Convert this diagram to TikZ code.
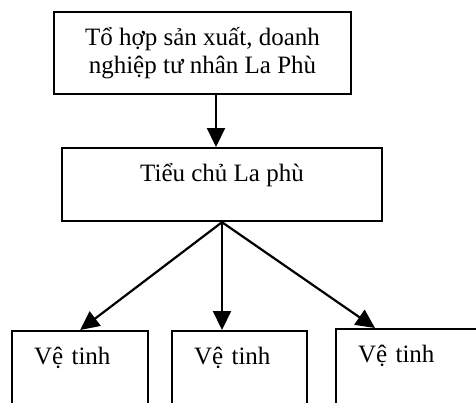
\documentclass[tikz,border=0pt]{standalone}
\usepackage{fontspec}
\setmainfont{Liberation Serif}
\usepackage{tikz}
\usetikzlibrary{arrows.meta, positioning, calc}

\begin{document}
\begin{tikzpicture}[x=1pt, y=1pt, line width=2.2pt,
  >={Triangle[length=19pt, width=18pt]},
  box/.style={draw, inner sep=0pt, font=\fontsize{25}{28}\selectfont},
  vetinhbox/.style={box, anchor=north west, inner xsep=22pt, align=left, text height=33pt, text depth=50pt}]
  \useasboundingbox (0,0) rectangle (476,-402);
  % Khối
  \node[box, minimum width=297pt, minimum height=82pt, align=center] (tohop) at (202.5,-53) {Tổ hợp sản xuất, doanh\\nghiệp tư nhân La Phù};
  \node[box, anchor=north, minimum width=320pt, text height=33pt, text depth=40pt] (tieuchu) at (222,-147) {Tiểu chủ La phù};
  \node[vetinhbox, text width=92pt] (vetinh1) at (11,-330) {Vệ tinh};
  \node[vetinhbox, text width=91pt] (vetinh2) at (171,-330) {Vệ tinh};
  \node[vetinhbox, text width=101pt] (vetinh3) at (335,-328) {Vệ tinh};

  % Mũi tên
  \draw[->] ([xshift=13.5pt]tohop.south) -- ([xshift=13.5pt]tohop.south |- tieuchu.north);
  \draw[->] (tieuchu.south) -- (vetinh1.north);
  \draw[->] (tieuchu.south) -- (tieuchu.south |- vetinh2.north);
  \draw[->] (tieuchu.south) -- ([xshift=40pt]vetinh3.north west);
\end{tikzpicture}
\end{document}
